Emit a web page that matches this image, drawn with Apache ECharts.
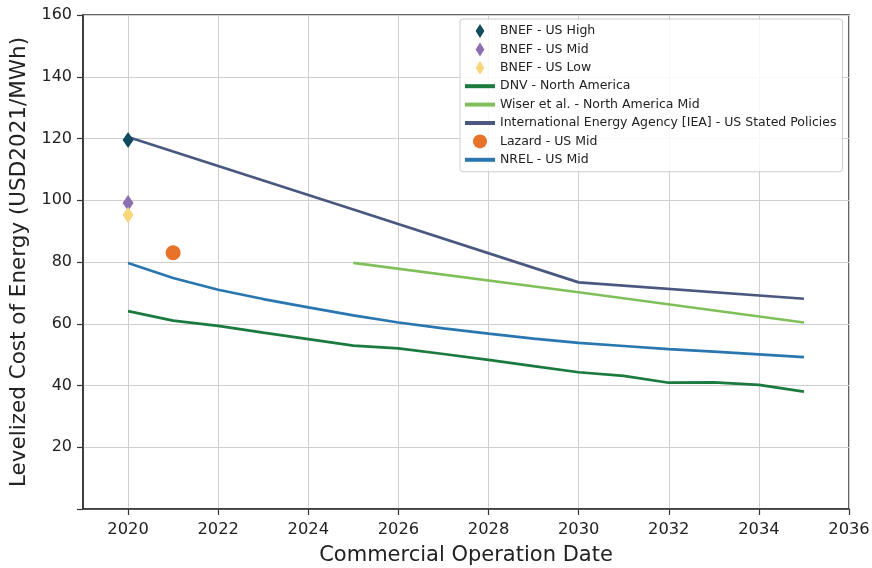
<!DOCTYPE html>
<html>
<head>
<meta charset="utf-8">
<script src="https://cdn.jsdelivr.net/npm/echarts@6/dist/echarts.min.js"></script>
<style>html,body{margin:0;padding:0;background:#fff}#c{width:872px;height:568px}</style>
</head>
<body>
<div id="c"></div>
<script>
const xTicks = [2020, 2022, 2024, 2026, 2028, 2030, 2032, 2034, 2036];
const yearsFull = [2020, 2021, 2022, 2023, 2024, 2025, 2026, 2027, 2028, 2029, 2030, 2031, 2032, 2033, 2034, 2035];
const dnv = [64.1, 61.0, 59.3, 57.1, 55.0, 52.9, 52.0, 50.2, 48.3, 46.3, 44.3, 43.1, 40.9, 41.0, 40.2, 38.0];
const nrel = [79.7, 74.8, 71.0, 68.0, 65.3, 62.7, 60.4, 58.5, 56.8, 55.2, 53.8, 52.8, 51.8, 51.0, 50.1, 49.2];
const wiserYears = [2025, 2030, 2035];
const wiser = [79.7, 70.2, 60.4];
const ieaYears = [2020, 2025, 2030, 2035];
const iea = [120.5, 97.0, 73.4, 68.1];
const bnefHigh = [[2020, 119.5]];
const bnefMid = [[2020, 99.1]];
const bnefLow = [[2020, 95.2]];
const lazard = [[2021, 83.0]];

const zip = (xs, ys) => xs.map((x, i) => [x, ys[i]]);
const diamond = 'path://M5,0L10,8L5,16L0,8Z';
const font = 'DejaVu Sans';
const noSym = { color: 'rgba(0,0,0,0)', borderColor: 'rgba(0,0,0,0)', borderWidth: 0, opacity: 0 };

const chart = echarts.init(document.getElementById('c'));
chart.setOption({
  animation: false,
  textStyle: { fontFamily: font },
  grid: { left: 83, top: 15, right: 23, bottom: 59, containLabel: false, outerBoundsMode: 'none', show: true, borderColor: '#333', borderWidth: 1.5, backgroundColor: 'transparent' },
  xAxis: {
    type: 'value', min: 2019, max: 2036, interval: 1,
    name: 'Commercial Operation Date', nameLocation: 'middle', nameGap: 36,
    nameTextStyle: { fontSize: 21, color: '#222', fontFamily: font },
    axisLine: { show: true, lineStyle: { color: '#333', width: 1.5 } },
    axisTick: { show: true, length: 6, customValues: xTicks, lineStyle: { color: '#333', width: 1.2 } },
    axisLabel: { customValues: xTicks, fontSize: 16.3, color: '#222', margin: 13, fontFamily: font, formatter: v => String(v) },
    splitLine: { show: true, lineStyle: { color: '#cfcfcf', width: 1 } }
  },
  yAxis: {
    type: 'value', min: 0, max: 160, interval: 20,
    name: 'Levelized Cost of Energy (USD2021/MWh)', nameLocation: 'middle', nameGap: 53,
    nameTextStyle: { fontSize: 21.5, color: '#222', fontFamily: font },
    axisLine: { show: true, lineStyle: { color: '#333', width: 1.5 } },
    axisTick: { show: true, length: 6, lineStyle: { color: '#333', width: 1.2 } },
    axisLabel: { fontSize: 16, color: '#222', margin: 11, fontFamily: font, formatter: v => v === 0 ? '' : String(v) },
    splitLine: { show: true, lineStyle: { color: '#cfcfcf', width: 1 } }
  },
  legend: {
    orient: 'vertical', left: 460, top: 19,
    padding: [5, 6, 5, 3], itemGap: 4.4, itemWidth: 30, itemHeight: 14,
    backgroundColor: 'rgba(255,255,255,0.85)', borderColor: '#cccccc', borderWidth: 1, borderRadius: 3,
    textStyle: { fontSize: 12.5, lineHeight: 14, color: '#222', fontFamily: font },
    data: [
      { name: 'BNEF - US High', icon: diamond },
      { name: 'BNEF - US Mid', icon: diamond },
      { name: 'BNEF - US Low', icon: diamond },
      { name: 'DNV - North America', lineStyle: { width: 4 }, itemStyle: noSym },
      { name: 'Wiser et al. - North America Mid', lineStyle: { width: 4 }, itemStyle: noSym },
      { name: 'International Energy Agency [IEA] - US Stated Policies', lineStyle: { width: 4 }, itemStyle: noSym },
      { name: 'Lazard - US Mid', icon: 'circle' },
      { name: 'NREL - US Mid', lineStyle: { width: 4 }, itemStyle: noSym }
    ]
  },
  series: [
    { name: 'DNV - North America', type: 'line', data: zip(yearsFull, dnv), symbol: 'none', lineStyle: { color: '#1b7a3e', width: 2.7 }, itemStyle: { color: '#1b7a3e' }, z: 2 },
    { name: 'Wiser et al. - North America Mid', type: 'line', data: zip(wiserYears, wiser), symbol: 'none', lineStyle: { color: '#80c05a', width: 2.7 }, itemStyle: { color: '#80c05a' }, z: 2 },
    { name: 'International Energy Agency [IEA] - US Stated Policies', type: 'line', data: zip(ieaYears, iea), symbol: 'none', lineStyle: { color: '#4a5880', width: 2.7 }, itemStyle: { color: '#4a5880' }, z: 2 },
    { name: 'NREL - US Mid', type: 'line', data: zip(yearsFull, nrel), symbol: 'none', lineStyle: { color: '#2a77b0', width: 2.7 }, itemStyle: { color: '#2a77b0' }, z: 2 },
    { name: 'BNEF - US High', type: 'scatter', data: bnefHigh, symbol: diamond, symbolSize: [11, 16], itemStyle: { color: '#124a5e', opacity: 1 }, z: 4 },
    { name: 'BNEF - US Mid', type: 'scatter', data: bnefMid, symbol: diamond, symbolSize: [11, 16], itemStyle: { color: '#8c6fb0', opacity: 1 }, z: 4 },
    { name: 'BNEF - US Low', type: 'scatter', data: bnefLow, symbol: diamond, symbolSize: [11, 16], itemStyle: { color: '#f6d77b', opacity: 1 }, z: 4 },
    { name: 'Lazard - US Mid', type: 'scatter', data: lazard, symbol: 'circle', symbolSize: 15, itemStyle: { color: '#e8722a', opacity: 1 }, z: 4 }
  ]
});
</script>
</body>
</html>
